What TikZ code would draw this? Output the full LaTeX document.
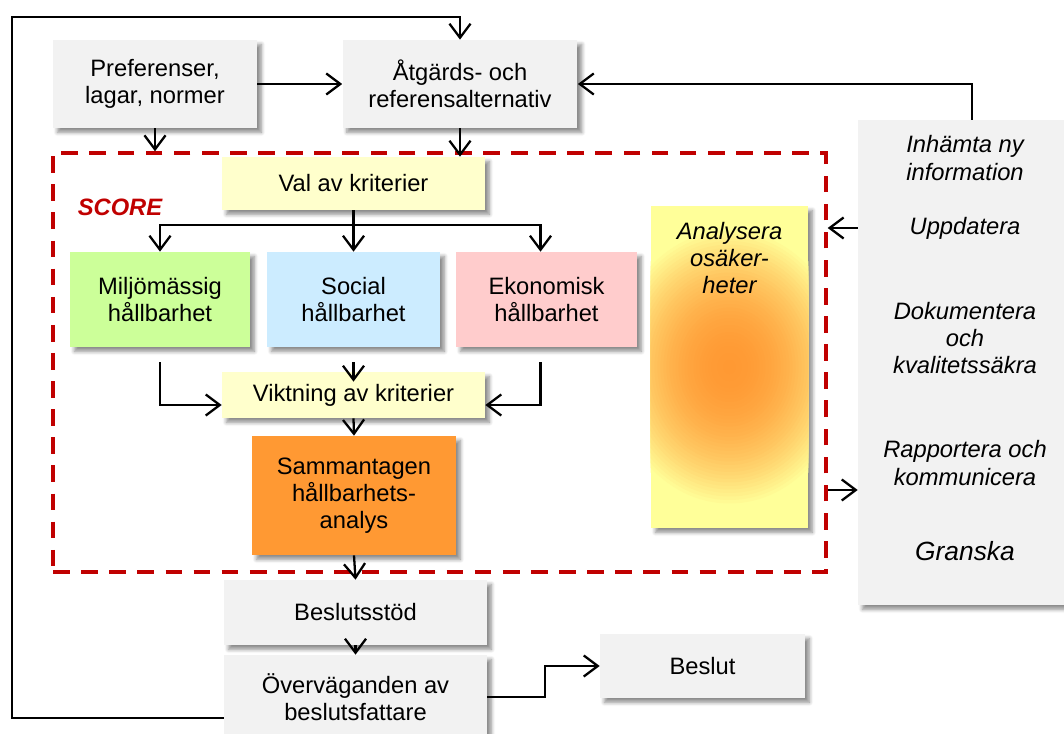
\documentclass[tikz,border=0pt]{standalone}
\usepackage{fontspec}
\setmainfont{Liberation Sans}
\usepackage{tikz}
\usetikzlibrary{arrows.meta}
\usetikzlibrary{positioning}
\usetikzlibrary{shadows.blur}

\definecolor{boxgray}{HTML}{F2F2F2}
\definecolor{crityellow}{HTML}{FFFFCC}
\definecolor{envgreen}{HTML}{CCFF99}
\definecolor{socblue}{HTML}{CCECFF}
\definecolor{ecopink}{HTML}{FFCCCC}
\definecolor{sumorange}{HTML}{FF9933}
\definecolor{scorered}{HTML}{C00000}
\definecolor{osakyellow}{HTML}{FFFF99}

\begin{document}
\begin{tikzpicture}[x=0.02cm, y=-0.02cm,
    >={Straight Barb[length=8pt,width=12pt]},
    every node/.style={font=\fontsize{13.5}{15.5}\selectfont, align=center, inner sep=2pt},
    box/.style={rectangle, blur shadow={shadow xshift=2.5pt, shadow yshift=-2.5pt, shadow blur steps=6, shadow opacity=45}},
    itext/.style={font=\fontsize{13.5}{15.5}\selectfont\itshape},
    arr/.style={->, line width=1.3pt}]

	\useasboundingbox (0,0) rectangle (1064,733);

	% dashed SCORE frame
	\node[draw=scorered, dash pattern=on 9.5pt off 6.5pt, line width=2pt,
	      minimum width=15.46cm, minimum height=8.38cm] (score) at (439.5,362.5) {};
	\node[font=\fontsize{13.5}{15.5}\selectfont\bfseries\itshape, text=scorered] (scorelbl) at (120,207) {SCORE};

	\begin{scope}[every node/.append style={box}]
		\node[fill=boxgray, minimum width=4.08cm, minimum height=1.76cm] (pref) at (155,84) {Preferenser,\\lagar, normer};
		\node[fill=boxgray, minimum width=4.7cm, minimum height=1.76cm] (alt) at (460,84) {Åtgärds- och\\referensalternativ};
		\node[fill=crityellow, minimum width=5.26cm, minimum height=1.06cm] (val) at (353.5,183.5) {Val av kriterier};
		\node[fill=envgreen, minimum width=3.6cm, minimum height=1.9cm] (milj) at (160,299.5) {Miljömässig\\hållbarhet};
		\node[fill=socblue, minimum width=3.46cm, minimum height=1.9cm] (soc) at (353.5,299.5) {Social\\hållbarhet};
		\node[fill=ecopink, minimum width=3.62cm, minimum height=1.9cm] (eko) at (546.5,299.5) {Ekonomisk\\hållbarhet};
		\node[fill=crityellow, minimum width=5.26cm, minimum height=0.92cm] (vikt) at (353.5,395) {Viktning av kriterier};
		\node[fill=sumorange, minimum width=4.08cm, minimum height=2.38cm] (samm) at (354,495.5) {Sammantagen\\hållbarhets-\\analys};
		\node[fill=boxgray, minimum width=5.26cm, minimum height=1.3cm] (stod) at (355.5,612.5) {Beslutsstöd};
		\node[fill=boxgray, minimum width=5.26cm, minimum height=1.68cm] (overv) at (355.5,697) {Överväganden av\\beslutsfattare};
		\node[fill=boxgray, minimum width=4.1cm, minimum height=1.28cm] (beslut) at (702.5,666) {Beslut};
		\node[fill=osakyellow, minimum width=3.14cm, minimum height=6.44cm] (osak) at (729.5,367) {};
		\node[fill=boxgray, minimum width=4.32cm, minimum height=9.7cm] (info) at (966,362.5) {};
	\end{scope}

	% orange glow inside the uncertainty box
	\begin{scope}
		\clip (osak.south west) rectangle (osak.north east);
		\foreach \k in {0,...,39} {
			\pgfmathsetmacro\rf{1-\k/40}
			\pgfmathsetmacro\mix{100*(1-\rf*\rf)}
			\fill[sumorange!\mix!osakyellow] (osak.center) ellipse [x radius=\rf*2.4cm, y radius=\rf*2.8cm];
		}
	\end{scope}

	\node[itext] (osaktxt) at (729.5,258) {Analysera\\osäker-\\heter};

	\node[itext] (inh) at (965,158) {Inhämta ny\\information};
	\node[itext] (upd) at (965,228) {Uppdatera};
	\node[itext] (dok) at (965,338) {Dokumentera\\och\\kvalitetssäkra};
	\node[itext] (rap) at (965,463) {Rapportera och\\kommunicera};
	\node[itext, font=\fontsize{15}{17}\selectfont\itshape] (gra) at (965,551) {Granska};

	\coordinate (loopbot) at (12,718);
	\coordinate (looptop) at (12,17);
	\coordinate (rapout) at (840,490);

	\draw[arr] (pref) -- (alt);
	\draw[arr] (pref.south) -- (pref.south |- score.north);
	\draw[arr] (alt.south) -- (alt.south |- val.north);
	\draw[arr] (val.south) -- (soc.north);
	\draw[arr] (val.south) -- ++(0,15) -| (milj.north);
	\draw[arr] (val.south) -- ++(0,15) -| ([xshift=-0.12cm]eko.north);
	\draw[arr] ([yshift=-0.3cm]milj.south) |- ([yshift=-0.2cm]vikt.west);
	\draw[arr] ([yshift=-0.3cm]soc.south) -- ([yshift=-0.2cm]vikt.north);
	\draw[arr] ([yshift=-0.3cm,xshift=-0.12cm]eko.south) |- ([yshift=-0.2cm]vikt.east);
	\draw[arr] (vikt.south) -- (samm.north);
	\draw[arr] (samm.south) -- (stod.north);
	\draw[arr] (stod.south) -- (overv.north);
	\draw[arr] (overv.east) -- ++(58,0) |- (beslut.west);
	\draw[arr] (overv.west |- loopbot) -- (loopbot) -- (looptop) -| (alt.north);
	\draw[arr] ([xshift=0.12cm]info.north) |- (alt.east);
	\draw[arr] (info.west |- upd) -- (score.east |- upd);
	\draw[arr] (score.east |- rapout) -- (info.west |- rapout);
\end{tikzpicture}
\end{document}
